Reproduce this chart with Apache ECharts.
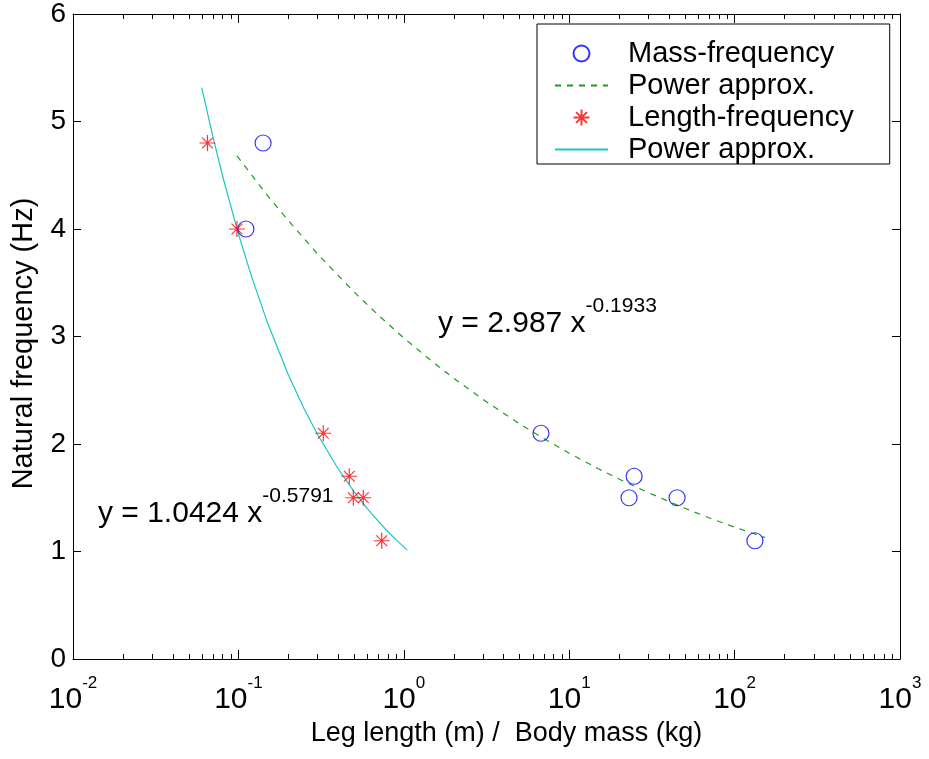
<!DOCTYPE html>
<html>
<head>
<meta charset="utf-8">
<script src="https://cdn.jsdelivr.net/npm/echarts@6/dist/echarts.min.js"></script>
<style>
  html, body { margin: 0; padding: 0; background: #fff; }
  #chart { width: 929px; height: 759px; }
</style>
</head>
<body>
<div id="chart"></div>
<script>
// Measured points: body mass (kg) vs natural frequency (Hz)
const massX = [0.141, 0.111, 6.75, 24.7, 23.0, 44.9, 132.7];
const massY = [4.8, 4.0, 2.1, 1.7, 1.5, 1.5, 1.1];

// Measured points: leg length (m) vs natural frequency (Hz)
const lengthX = [0.065, 0.098, 0.326, 0.468, 0.495, 0.569, 0.735];
const lengthY = [4.8, 4.0, 2.1, 1.7, 1.5, 1.5, 1.1];

// Power-law fit through the mass points: y = 2.987 x^-0.1933
const massFitX = [0.098, 0.15, 0.2, 0.3, 0.5, 0.7, 1, 1.5, 2, 3, 5, 7, 10, 15, 20, 30, 50, 70, 100, 153];
const massFitY = [4.68, 4.31, 4.08, 3.77, 3.415, 3.20, 2.987, 2.762, 2.612, 2.416, 2.188, 2.051, 1.914, 1.770, 1.674, 1.548, 1.402, 1.314, 1.226, 1.130];

// Power-law fit through the length points: y = 1.0424 x^-0.5791
const lengthFitX = [0.06, 0.07, 0.08, 0.1, 0.12, 0.15, 0.2, 0.25, 0.3, 0.4, 0.5, 0.6, 0.7, 0.8, 0.9, 1.05];
const lengthFitY = [5.316, 4.863, 4.500, 3.955, 3.559, 3.127, 2.647, 2.326, 2.093, 1.772, 1.557, 1.401, 1.282, 1.186, 1.108, 1.013];

// Axis ranges and ticks
const xMin = 0.01, xMax = 1000;
const yMin = 0, yMax = 6, yStep = 1;
const decades = [0.01, 0.1, 1, 10, 100];
const minorSteps = [2, 3, 4, 5, 6, 7, 8, 9];

// Legend / annotation text
const seriesNames = ['Mass-frequency', 'Power approx.', 'Length-frequency', 'Power approx. '];
const xTitle = 'Leg length (m) /  Body mass (kg)';
const yTitle = 'Natural frequency (Hz)';
const fitLabels = [
  { main: 'y = 1.0424 x', exp: '-0.5791', left: 98, top: 486 },
  { main: 'y = 2.987 x', exp: '-0.1933', left: 438, top: 296 }
];

const FONT = "'Liberation Sans', Arial, Helvetica, sans-serif";

const minorTicks = [];
decades.forEach(d => minorSteps.forEach(m => minorTicks.push([d * m, yMin])));

const chart = echarts.init(document.getElementById('chart'), null, { renderer: 'canvas' });

const asterisk = 'path://M8 0L8 16M0 8L16 8M2.6 2.6L13.4 13.4M2.6 13.4L13.4 2.6';

// "y = a x^b" with the exponent raised as a superscript
const supLabel = (ann) => ({
  type: 'text',
  left: ann.left,
  top: ann.top,
  z: 50,
  style: {
    text: '{m|' + ann.main + '}{s|' + ann.exp + '}',
    fill: '#000',
    rich: {
      m: { fontSize: 30, lineHeight: 42.5, verticalAlign: 'bottom', fontFamily: FONT, fill: '#000' },
      s: { fontSize: 21, lineHeight: 22, verticalAlign: 'top', fontFamily: FONT, fill: '#000' }
    }
  }
});

const option = {
  animation: false,
  backgroundColor: '#fff',
  textStyle: { fontFamily: FONT, color: '#000' },
  grid: { left: 73, right: 29, top: 10, bottom: 100, containLabel: false },
  legend: {
    data: seriesNames.map((n, i) => (i % 2 === 1 ? { name: n, itemStyle: { opacity: 0 } } : { name: n })),
    orient: 'vertical',
    left: 537,
    top: 24,
    width: 320,
    backgroundColor: '#fff',
    borderColor: '#000',
    borderWidth: 1,
    padding: [15, 36, 0, 17],
    itemGap: 3,
    itemWidth: 53,
    itemHeight: 16,
    selectedMode: false,
    textStyle: { fontSize: 29, lineHeight: 26, color: '#000', fontFamily: FONT, padding: [0, 0, 0, 15] }
  },
  xAxis: [
    {
      type: 'log', logBase: 10, min: xMin, max: xMax,
      position: 'bottom',
      name: xTitle, nameLocation: 'middle', nameGap: 59,
      nameTextStyle: { fontSize: 27, color: '#000', fontFamily: FONT, padding: [0, 0, 0, 40] },
      axisLine: { onZero: false, lineStyle: { color: '#000', width: 1 } },
      axisTick: { inside: true, length: 9, lineStyle: { color: '#000' } },
      splitLine: { show: false },
      axisLabel: {
        margin: 16,
        formatter: v => '{b|10}{s|' + Math.round(Math.log10(v)) + '}',
        rich: {
          b: { fontSize: 30, lineHeight: 40, verticalAlign: 'bottom', fontFamily: FONT, color: '#000' },
          s: { fontSize: 17, lineHeight: 18, verticalAlign: 'top', fontFamily: FONT, color: '#000' }
        }
      }
    },
    {
      type: 'log', logBase: 10, min: xMin, max: xMax,
      position: 'top',
      axisLine: { onZero: false, lineStyle: { color: '#000', width: 1 } },
      axisTick: { inside: true, length: 9, lineStyle: { color: '#000' } },
      axisLabel: { show: false },
      splitLine: { show: false }
    }
  ],
  yAxis: [
    {
      type: 'value', min: yMin, max: yMax, interval: yStep,
      position: 'left',
      name: yTitle, nameLocation: 'middle', nameGap: 35,
      nameTextStyle: { fontSize: 29, color: '#000', fontFamily: FONT, padding: [0, 14, 0, 0] },
      axisLine: { show: true, onZero: false, lineStyle: { color: '#000', width: 1 } },
      axisTick: { show: true, inside: true, length: 8, lineStyle: { color: '#000' } },
      splitLine: { show: false },
      axisLabel: { fontSize: 28, color: '#000', margin: 7, padding: [14, 0, 0, 0], fontFamily: FONT }
    },
    {
      type: 'value', min: yMin, max: yMax, interval: yStep,
      position: 'right',
      axisLine: { show: true, onZero: false, lineStyle: { color: '#000', width: 1 } },
      axisTick: { show: true, inside: true, length: 8, lineStyle: { color: '#000' } },
      axisLabel: { show: false },
      splitLine: { show: false }
    }
  ],
  graphic: fitLabels.map(supLabel),
  series: [
    {
      name: seriesNames[0],
      type: 'scatter',
      data: massX.map((x, i) => [x, massY[i]]),
      symbol: 'circle',
      symbolSize: 16,
      itemStyle: { color: 'rgba(0,0,0,0)', borderColor: '#0000ff', borderWidth: 1.2 },
      z: 5
    },
    {
      name: seriesNames[1],
      type: 'line',
      data: massFitX.map((x, i) => [x, massFitY[i]]),
      symbol: 'none',
      smooth: false,
      lineStyle: { color: '#1f9a1f', width: 1.2, type: [6, 6] },
      itemStyle: { color: '#1f9a1f' },
      z: 3
    },
    {
      name: seriesNames[2],
      type: 'scatter',
      data: lengthX.map((x, i) => [x, lengthY[i]]),
      symbol: asterisk,
      symbolSize: 16,
      itemStyle: { color: 'rgba(0,0,0,0)', borderColor: '#ff0000', borderWidth: 1.2 },
      z: 5
    },
    {
      name: seriesNames[3],
      type: 'line',
      data: lengthFitX.map((x, i) => [x, lengthFitY[i]]),
      symbol: 'none',
      smooth: false,
      lineStyle: { color: '#18c6c6', width: 1.2, type: 'solid' },
      itemStyle: { color: '#18c6c6' },
      z: 3
    },
    {
      // minor ticks of the log axis, drawn at the bottom and top edges of the box
      type: 'custom',
      silent: true,
      clip: false,
      data: minorTicks,
      z: 10,
      renderItem: (params, api) => {
        const v = api.value(0);
        const b = api.coord([v, yMin]);
        const t = api.coord([v, yMax]);
        const x = Math.round(b[0]) + 0.5;
        return {
          type: 'group',
          children: [
            { type: 'line', shape: { x1: x, y1: b[1], x2: x, y2: b[1] - 5 }, style: { stroke: '#000', lineWidth: 1 } },
            { type: 'line', shape: { x1: x, y1: t[1], x2: x, y2: t[1] + 5 }, style: { stroke: '#000', lineWidth: 1 } }
          ]
        };
      }
    }
  ]
};

chart.setOption(option);
</script>
</body>
</html>
